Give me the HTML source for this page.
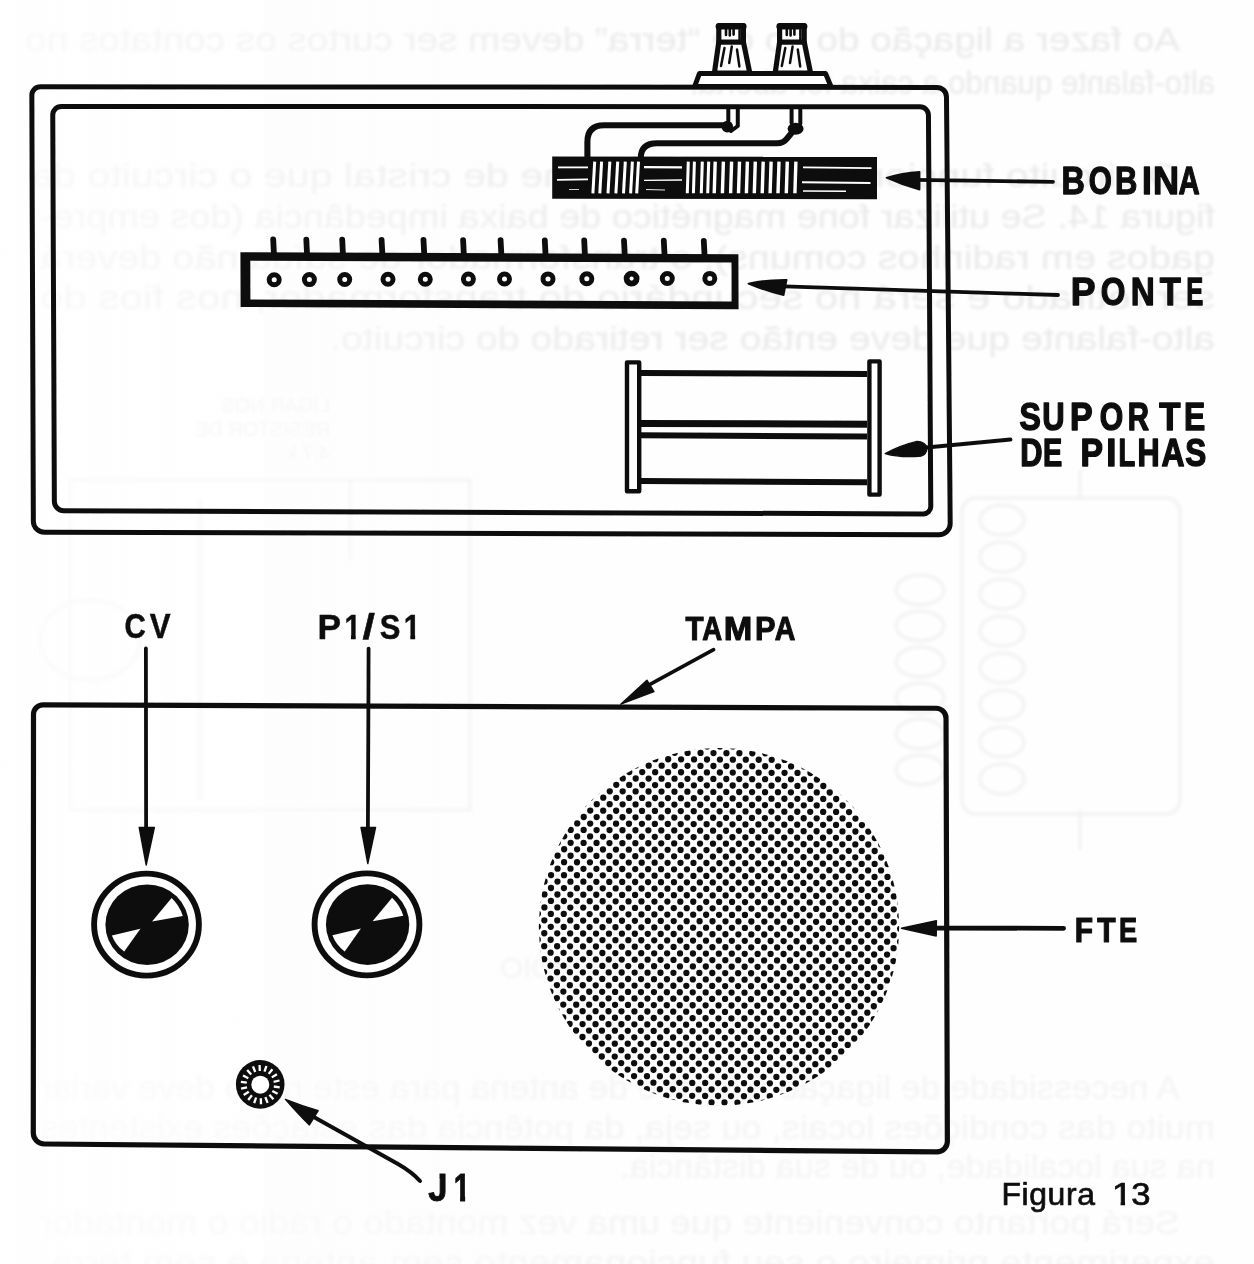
<!DOCTYPE html>
<html lang="pt-BR">
<head>
<meta charset="utf-8">
<title>Figura 13</title>
<style>
html,body{margin:0;padding:0;background:#fefefe;}
body{width:1254px;height:1264px;overflow:hidden;position:relative;font-family:"Liberation Sans",sans-serif;}
svg{position:absolute;left:0;top:0;display:block;}
</style>
</head>
<body>
<svg width="1254" height="1264" viewBox="0 0 1254 1264">
<defs><filter id="soft" x="-2%" y="-2%" width="104%" height="104%"><feGaussianBlur stdDeviation="0.38"/></filter><filter id="ghostblur" x="-2%" y="-20%" width="104%" height="140%"><feGaussianBlur stdDeviation="1.5"/></filter></defs>
<g id="ghost" font-family="'Liberation Sans', sans-serif" font-size="34" filter="url(#ghostblur)">
<text transform="matrix(-1 0 0 1 1180 0)" x="0" y="51" fill="#eaeaea" textLength="1155" lengthAdjust="spacingAndGlyphs">Ao fazer a ligação do fio de “terra” devem ser curtos os contatos no</text>
<text transform="matrix(-1 0 0 1 1215 0)" x="0" y="94" fill="#eaeaea" textLength="525" lengthAdjust="spacingAndGlyphs">alto-falante quando a caixa for aberta.</text>
<text transform="matrix(-1 0 0 1 1180 0)" x="0" y="187" fill="#eaeaea" textLength="1150" lengthAdjust="spacingAndGlyphs">O circuito funciona melhor com fone de cristal que o circuito da</text>
<text transform="matrix(-1 0 0 1 1215 0)" x="0" y="228" fill="#eaeaea" textLength="1175" lengthAdjust="spacingAndGlyphs">figura 14. Se utilizar fone magnético de baixa impedância (dos empre-</text>
<text transform="matrix(-1 0 0 1 1215 0)" x="0" y="269" fill="#eaeaea" textLength="1175" lengthAdjust="spacingAndGlyphs">gados em radinhos comuns), o transformador de saída não deverá</text>
<text transform="matrix(-1 0 0 1 1215 0)" x="0" y="309" fill="#eaeaea" textLength="1175" lengthAdjust="spacingAndGlyphs">ser retirado e será no secundário do transformador, nos fios do</text>
<text transform="matrix(-1 0 0 1 1215 0)" x="0" y="350" fill="#eaeaea" textLength="885" lengthAdjust="spacingAndGlyphs">alto-falante que deve então ser retirado do circuito.</text>
<text transform="matrix(-1 0 0 1 1180 0)" x="0" y="1099" fill="#f4f4f4" textLength="1140" lengthAdjust="spacingAndGlyphs">A necessidade de ligação à terra e de antena para este rádio deve variar</text>
<text transform="matrix(-1 0 0 1 1215 0)" x="0" y="1139" fill="#f4f4f4" textLength="1175" lengthAdjust="spacingAndGlyphs">muito das condições locais, ou seja, da potência das estações existentes</text>
<text transform="matrix(-1 0 0 1 1215 0)" x="0" y="1178" fill="#f4f4f4" textLength="595" lengthAdjust="spacingAndGlyphs">na sua localidade, ou de sua distância.</text>
<text transform="matrix(-1 0 0 1 1180 0)" x="0" y="1234" fill="#f4f4f4" textLength="1140" lengthAdjust="spacingAndGlyphs">Será portanto conveniente que uma vez montado o rádio o montador</text>
<text transform="matrix(-1 0 0 1 1215 0)" x="0" y="1274" fill="#f4f4f4" textLength="1175" lengthAdjust="spacingAndGlyphs">experimente primeiro o seu funcionamento sem antena e sem terra.</text>
<text transform="matrix(-1 0 0 1 760 0)" x="0" y="978" font-size="30" fill="#f3f3f3" textLength="260" lengthAdjust="spacingAndGlyphs">USANDO O RÁDIO</text>
<text transform="matrix(-1 0 0 1 330 0)" x="0" y="412" font-size="20" fill="#f0f0f0">LIGAR NOS</text>
<text transform="matrix(-1 0 0 1 330 0)" x="0" y="436" font-size="20" fill="#f0f0f0">RESISTOR DE</text>
<text transform="matrix(-1 0 0 1 330 0)" x="0" y="460" font-size="20" fill="#f0f0f0">4,7 k</text>
<g fill="none" stroke="#f3f3f3" stroke-width="3.5">
<rect x="962" y="498" width="218" height="316" rx="14"/>
<ellipse cx="1002" cy="520" rx="22" ry="15"/>
<ellipse cx="1002" cy="557" rx="22" ry="15"/>
<ellipse cx="1002" cy="594" rx="22" ry="15"/>
<ellipse cx="1002" cy="631" rx="22" ry="15"/>
<ellipse cx="1002" cy="668" rx="22" ry="15"/>
<ellipse cx="1002" cy="705" rx="22" ry="15"/>
<ellipse cx="1002" cy="742" rx="22" ry="15"/>
<ellipse cx="1002" cy="779" rx="22" ry="15"/>
<ellipse cx="920" cy="590" rx="24" ry="15"/>
<ellipse cx="920" cy="626" rx="24" ry="15"/>
<ellipse cx="920" cy="662" rx="24" ry="15"/>
<ellipse cx="920" cy="698" rx="24" ry="15"/>
<ellipse cx="920" cy="734" rx="24" ry="15"/>
<ellipse cx="920" cy="770" rx="24" ry="15"/>
<path d="M1080,470 V498 M1080,810 V850 M70,480 H470 V810 H70 Z M200,500 V800 M350,480 V560"/>
<ellipse cx="90" cy="640" rx="50" ry="40"/>
</g>
</g>
<defs><linearGradient id="fade" gradientUnits="userSpaceOnUse" x1="0" y1="0" x2="700" y2="0"><stop offset="0" stop-color="#fefefe" stop-opacity="0.75"/><stop offset="0.45" stop-color="#fefefe" stop-opacity="0.45"/><stop offset="1" stop-color="#fefefe" stop-opacity="0"/></linearGradient></defs>
<rect x="0" y="0" width="700" height="1264" fill="url(#fade)"/>
<g id="drawing" filter="url(#soft)">
<g id="top-box" fill="none" stroke="#111" stroke-linejoin="round" stroke-linecap="round">
<path d="M31.83,95.30 A8.5,8.5 0 0 1 40.30,86.81 L936.90,87.39 A9.5,9.5 0 0 1 946.48,96.90 L950.20,523.40 A11.5,11.5 0 0 1 938.80,534.87 L44.40,532.23 A11.0,11.0 0 0 1 33.36,521.20 Z" stroke-width="5.0"/>
<path d="M52.74,115.00 A8.5,8.5 0 0 1 61.20,106.50 L919.90,106.70 A8.5,8.5 0 0 1 928.45,115.20 L930.76,506.50 A7.5,7.5 0 0 1 923.30,513.97 L63.90,510.83 A9.5,9.5 0 0 1 54.36,501.30 Z" stroke-width="5.0"/>
</g>
<g id="terminals" stroke="#111" stroke-linejoin="round" stroke-linecap="round">
<path d="M694.6,86.5 L699.4,73.6 L825.6,73.6 L831,86.5 Z" fill="#fff" stroke-width="5.0"/>
<path d="M718.8,42 L714.4,73 L749.8,73 L743.4,42 Z" fill="#fff" stroke-width="5.2"/>
<path d="M718.8,25.6 L743.4,25.6 L743.4,42 L718.8,42 Z" fill="#fff" stroke-width="5.2"/>
<path d="M718.8,26.4 L743.4,26.4" fill="none" stroke-width="6.4"/>
<path d="M726.0,29 L726.0,35 M729.8,29 L729.8,35.4 M733.6,29 L733.6,34.6 M739.6,30 L739.6,40" fill="none" stroke-width="2.6"/>
<path d="M724.5,48 L721.0,66 M731.8,46.5 L729.2,63 M737.0,49.5 L739.4,66.5" fill="none" stroke-width="2.5"/>
<path d="M779.6,42 L775.2,73 L810.6,73 L804.2,42 Z" fill="#fff" stroke-width="5.2"/>
<path d="M779.6,25.6 L804.2,25.6 L804.2,42 L779.6,42 Z" fill="#fff" stroke-width="5.2"/>
<path d="M779.6,26.4 L804.2,26.4" fill="none" stroke-width="6.4"/>
<path d="M786.8,29 L786.8,35 M790.6,29 L790.6,35.4 M794.4,29 L794.4,34.6 M800.4,30 L800.4,40" fill="none" stroke-width="2.6"/>
<path d="M785.3,48 L781.8,66 M792.6,46.5 L790.0,63 M797.8,49.5 L800.2,66.5" fill="none" stroke-width="2.5"/>
</g>
<g id="wires" fill="none" stroke="#111" stroke-linejoin="round" stroke-linecap="round">
<path d="M728.3,108 L728.3,121 M737.8,108 L737.8,126 L731,131" stroke-width="4.0"/>
<path d="M791.6,108 L791.6,123 M800.3,108 L800.3,124" stroke-width="4.0"/>
<circle cx="727.3" cy="126.6" r="5.8" fill="#111" stroke="none"/>
<ellipse cx="795.6" cy="128.8" rx="8" ry="6" fill="#111" stroke="none"/>
<path d="M727,125.3 L604,125.3 Q587.4,125.3 587.4,142 L587.4,158" stroke-width="6.1"/>
<path d="M794,130 L787,138.5 Q783.5,143.3 777,143.3 L657,143.3 Q640.8,143.3 640.8,158" stroke-width="6.0"/>
</g>
<g id="coil">
<path d="M552.2,156.6 L877,156.8 L877,199.2 L552.2,198.8 Z" fill="#111"/>
<g stroke="#fff" stroke-linecap="butt" fill="none">
<path d="M594.7,161.6 L592.9,193.4" stroke-width="3"/>
<path d="M601.6,161.6 L599.8,193.4" stroke-width="3"/>
<path d="M609.8,161.6 L608.0,193.4" stroke-width="3"/>
<path d="M617.7,161.6 L615.9,193.4" stroke-width="3"/>
<path d="M625.3,161.6 L623.5,193.4" stroke-width="3"/>
<path d="M632.4,161.6 L630.6,193.4" stroke-width="3"/>
<path d="M638.5,161.6 L636.7,193.4" stroke-width="3"/>
<path d="M688.3,161.6 L687.3,193.2" stroke-width="3.0"/>
<path d="M694.4,161.6 L693.4,193.2" stroke-width="3.0"/>
<path d="M702.3,161.6 L701.3,193.2" stroke-width="3.0"/>
<path d="M708.7,161.6 L707.7,193.2" stroke-width="3.0"/>
<path d="M715.2,161.6 L714.2,193.2" stroke-width="3.4"/>
<path d="M723.4,161.6 L722.4,193.2" stroke-width="3.4"/>
<path d="M731.6,161.6 L730.6,193.2" stroke-width="3.4"/>
<path d="M739.5,161.6 L738.5,193.2" stroke-width="3.4"/>
<path d="M747.4,161.6 L746.4,193.2" stroke-width="3.4"/>
<path d="M755.3,161.6 L754.3,193.2" stroke-width="3.4"/>
<path d="M763.2,161.6 L762.2,193.2" stroke-width="3.4"/>
<path d="M771.1,161.6 L770.1,193.2" stroke-width="3.4"/>
<path d="M779.0,161.6 L778.0,193.2" stroke-width="3.4"/>
<path d="M787.3,161.6 L786.3,193.2" stroke-width="3.4"/>
<path d="M795.9,161.6 L794.9,193.2" stroke-width="3.4"/>
<path d="M558,167.4 L588,167.4" stroke-width="1.8"/>
<path d="M557,179.8 L588,179.4" stroke-width="1.8"/>
<path d="M569,189.5 L579,189.5" stroke-width="0.8"/>
<path d="M644,167.2 L682,167.4" stroke-width="2.2"/>
<path d="M644,180.3 L682,180" stroke-width="1.3"/>
<path d="M646,189.5 L665,190" stroke-width="0.9"/>
<path d="M803,167.3 L871.5,168.2" stroke-width="1.8"/>
<path d="M802,182.3 L870.5,183" stroke-width="2.0"/>
<path d="M803,191 L846,191.3" stroke-width="1.4"/>
</g></g>
<g id="ponte" stroke="#111" fill="none" stroke-linecap="round" stroke-linejoin="miter">
<path d="M240.4,252.2 L738.4,254.2 L738.6,309.2 L240.6,307 Z M250.3,260.8 L731.5,262.6 L731.6,301.4 L250.4,299.4 Z" fill="#111" fill-rule="evenodd" stroke="none"/>
<path d="M273.2,239.5 L274.0,255.0" stroke-width="5.8"/>
<path d="M306.3,239.6 L307.1,255.2" stroke-width="5.8"/>
<path d="M342.2,239.7 L343.0,255.3" stroke-width="5.8"/>
<path d="M381.6,239.9 L382.4,255.4" stroke-width="5.8"/>
<path d="M423.5,240.0 L424.3,255.6" stroke-width="5.8"/>
<path d="M463.1,240.1 L463.9,255.8" stroke-width="5.8"/>
<path d="M500.6,240.2 L501.4,255.9" stroke-width="5.8"/>
<path d="M544.8,240.3 L545.6,256.1" stroke-width="5.8"/>
<path d="M584.2,240.5 L585.0,256.2" stroke-width="5.8"/>
<path d="M624.0,240.6 L624.8,256.4" stroke-width="5.8"/>
<path d="M663.8,240.7 L664.6,256.5" stroke-width="5.8"/>
<path d="M703.8,240.8 L704.6,256.6" stroke-width="5.8"/>
<circle cx="274.2" cy="279.7" r="5" stroke-width="5.0"/>
<circle cx="309.4" cy="279.6" r="5" stroke-width="5.0"/>
<circle cx="344.7" cy="279.5" r="5" stroke-width="5.0"/>
<circle cx="388.0" cy="279.3" r="5" stroke-width="5.0"/>
<circle cx="425.3" cy="279.2" r="5" stroke-width="5.0"/>
<circle cx="468.4" cy="279.1" r="5" stroke-width="5.0"/>
<circle cx="504.5" cy="279.0" r="5" stroke-width="5.0"/>
<circle cx="548.0" cy="278.9" r="5" stroke-width="5.0"/>
<circle cx="586.8" cy="278.7" r="5" stroke-width="5.0"/>
<circle cx="631.6" cy="278.6" r="5" stroke-width="5.8"/>
<circle cx="667.3" cy="278.5" r="5" stroke-width="5.0"/>
<circle cx="709.8" cy="278.4" r="5" stroke-width="5.0"/>
</g>
<g id="holder" stroke="#111" fill="none" stroke-linecap="butt" stroke-linejoin="round">
<path d="M641,373 L867,374" stroke-width="6"/>
<path d="M641,423.4 L867,424.2" stroke-width="7"/>
<path d="M641,435.3 L867,436.4" stroke-width="6"/>
<path d="M641,481 L867,482.2" stroke-width="6"/>
<path d="M627,362.4 L639.2,362.4 L639.2,491.2 L627,491.2 Z" fill="#fff" stroke-width="4.4"/>
<path d="M869.4,361.4 L879.6,361.4 L879.6,494.6 L869.4,494.6 Z" fill="#fff" stroke-width="4.4"/>
</g>
<g id="arrows-top" stroke="#111" fill="#111" stroke-linecap="round" stroke-linejoin="round">
<path d="M1053,181.8 L915,179.8" fill="none" stroke-width="3.8"/>
<path d="M886.5,177.8 Q902,173 919.5,171.8 L919.5,189.6 Q902,185 886.5,177.8 Z" stroke-width="1.8"/>
<path d="M1058,295 L784,286.4" fill="none" stroke-width="3.8"/>
<path d="M748.5,283.6 Q766,279.6 786.6,279.8 L783.6,295.2 Q766,291 748.5,283.6 Z" stroke-width="1.8"/>
<path d="M1010.4,439.6 L924,447.8" fill="none" stroke-width="4.0"/>
<path d="M885.2,453.6 Q900,445.4 917,441.4 Q925.4,441.8 927,447.8 Q927,454.4 921,456.2 Q900,458 885.2,453.6 Z" stroke-width="1.2"/>
</g>
<g id="bottom-box" fill="none" stroke="#111" stroke-linejoin="round" stroke-linecap="round">
<path d="M33.50,714.30 A9.5,9.5 0 0 1 43.00,704.84 L936.00,708.26 A10.0,10.0 0 0 1 946.03,718.30 L947.37,1141.50 A10.5,10.5 0 0 1 936.90,1151.91 L44.30,1144.00 A11.0,11.0 0 0 1 33.31,1132.90 Z" stroke-width="5.2"/>
</g>
<g id="knobs">
<ellipse cx="146.5" cy="924.6" rx="52.4" ry="51.0" fill="#fff" stroke="#111" stroke-width="5.9"/>
<ellipse cx="147.1" cy="924.8000000000001" rx="41.7" ry="40.3" fill="#111"/>
<path d="M152.1,921.5 L171.6,898.0 Q179.5,905.6 182.8,915.9 Z" fill="#fff"/>
<path d="M140.4,928.7 L111.9,935.4 Q115.5,945.1 124.2,951.6 Z" fill="#fff"/>
<ellipse cx="367" cy="924.4" rx="52.4" ry="51.0" fill="#fff" stroke="#111" stroke-width="5.9"/>
<ellipse cx="367.6" cy="924.6" rx="41.7" ry="40.3" fill="#111"/>
<path d="M372.6,921.3 L392.1,897.8 Q400.0,905.4 403.3,915.7 Z" fill="#fff"/>
<path d="M360.9,928.5 L332.4,935.2 Q336.0,944.9 344.7,951.4 Z" fill="#fff"/>
</g>
<defs><clipPath id="grilleclip"><ellipse cx="719" cy="926.8" rx="180.2" ry="178.8"/></clipPath></defs>
<g id="grille" clip-path="url(#grilleclip)">
<g transform="translate(564.07,862.2) rotate(0.32)" fill="none" stroke="#111" stroke-width="6.3" stroke-linecap="round" stroke-dasharray="0 12.94">
<path d="M-51.76,-129.40H362.82M-45.29,-122.93H369.29M-51.76,-116.46H362.82M-45.29,-109.99H369.29M-51.76,-103.52H362.82M-45.29,-97.05H369.29M-51.76,-90.58H362.82M-45.29,-84.11H369.29M-51.76,-77.64H362.82M-45.29,-71.17H369.29M-51.76,-64.70H362.82M-45.29,-58.23H369.29M-51.76,-51.76H362.82M-45.29,-45.29H369.29M-51.76,-38.82H362.82M-45.29,-32.35H369.29M-51.76,-25.88H362.82M-45.29,-19.41H369.29M-51.76,-12.94H362.82M-45.29,-6.47H369.29M-51.76,0.00H362.82M-45.29,6.47H369.29M-51.76,12.94H362.82M-45.29,19.41H369.29M-51.76,25.88H362.82M-45.29,32.35H369.29M-51.76,38.82H362.82M-45.29,45.29H369.29M-51.76,51.76H362.82M-45.29,58.23H369.29M-51.76,64.70H362.82M-45.29,71.17H369.29M-51.76,77.64H362.82M-45.29,84.11H369.29M-51.76,90.58H362.82M-45.29,97.05H369.29M-51.76,103.52H362.82M-45.29,109.99H369.29M-51.76,116.46H362.82M-45.29,122.93H369.29M-51.76,129.40H362.82M-45.29,135.87H369.29M-51.76,142.34H362.82M-45.29,148.81H369.29M-51.76,155.28H362.82M-45.29,161.75H369.29M-51.76,168.22H362.82M-45.29,174.69H369.29M-51.76,181.16H362.82M-45.29,187.63H369.29M-51.76,194.10H362.82M-45.29,200.57H369.29M-51.76,207.04H362.82M-45.29,213.51H369.29M-51.76,219.98H362.82M-45.29,226.45H369.29M-51.76,232.92H362.82M-45.29,239.39H369.29M-51.76,245.86H362.82M-45.29,252.33H369.29"/>
</g></g>
<g id="jack">
<circle cx="260.2" cy="1084.4" r="24.3" fill="#111"/>
<path d="M273.8,1086.5 L279.7,1087.3" stroke="#fff" stroke-width="2.3" fill="none"/>
<path d="M272.3,1091.0 L277.6,1093.8" stroke="#fff" stroke-width="2.3" fill="none"/>
<path d="M269.4,1094.7 L273.4,1099.2" stroke="#fff" stroke-width="2.3" fill="none"/>
<path d="M265.4,1097.2 L267.6,1102.8" stroke="#fff" stroke-width="2.3" fill="none"/>
<path d="M260.8,1098.2 L261.0,1104.2" stroke="#fff" stroke-width="2.3" fill="none"/>
<path d="M256.1,1097.5 L254.2,1103.2" stroke="#fff" stroke-width="2.3" fill="none"/>
<path d="M251.9,1095.3 L248.2,1100.0" stroke="#fff" stroke-width="2.3" fill="none"/>
<path d="M248.8,1091.8 L243.7,1095.0" stroke="#fff" stroke-width="2.3" fill="none"/>
<path d="M247.0,1087.4 L241.1,1088.7" stroke="#fff" stroke-width="2.3" fill="none"/>
<path d="M246.8,1082.7 L240.9,1081.9" stroke="#fff" stroke-width="2.3" fill="none"/>
<path d="M248.3,1078.2 L243.0,1075.4" stroke="#fff" stroke-width="2.3" fill="none"/>
<path d="M251.2,1074.5 L247.2,1070.0" stroke="#fff" stroke-width="2.3" fill="none"/>
<path d="M255.2,1072.0 L253.0,1066.4" stroke="#fff" stroke-width="2.3" fill="none"/>
<path d="M259.8,1071.0 L259.6,1065.0" stroke="#fff" stroke-width="2.3" fill="none"/>
<path d="M264.5,1071.7 L266.4,1066.0" stroke="#fff" stroke-width="2.3" fill="none"/>
<path d="M268.7,1073.9 L272.4,1069.2" stroke="#fff" stroke-width="2.3" fill="none"/>
<path d="M271.8,1077.4 L276.9,1074.2" stroke="#fff" stroke-width="2.3" fill="none"/>
<path d="M273.6,1081.8 L279.5,1080.5" stroke="#fff" stroke-width="2.3" fill="none"/>
<circle cx="260.3" cy="1084.7" r="9" fill="#fff"/>
</g>
<g id="arrows-bottom" stroke="#111" fill="#111" stroke-linecap="round" stroke-linejoin="round">
<path d="M145.9,648.4 L146.1,830" fill="none" stroke-width="3.8"/>
<path d="M146.2,865 L139.2,827.4 L154.4,827.4 Z" stroke-width="1.4"/>
<path d="M368.6,648.6 L367.9,830" fill="none" stroke-width="3.8"/>
<path d="M367.8,863.6 L361,827.4 L375.6,827.4 Z" stroke-width="1.4"/>
<path d="M713.6,649.6 L650,684.4" fill="none" stroke-width="3.6"/>
<path d="M620.8,704.2 L646.9,680.2 L654.0,691.6 Z" stroke-width="1.4"/>
<path d="M1063.6,928.3 L934,928.1" fill="none" stroke-width="4.8"/>
<path d="M901.4,928.2 L936.4,920.6 L936.2,936 Z" stroke-width="1.4"/>
<path d="M420,1181 Q412,1172 398,1164 L312,1116" fill="none" stroke-width="4"/>
<path d="M285.4,1099.4 Q302,1106 318.2,1110.6 L309.4,1125 Q299,1115 285.4,1099.4 Z" stroke-width="1.4"/>
</g>
<g id="labels" font-family="'Liberation Sans', sans-serif" fill="#111">
<text y="194.2" font-size="38.81" font-weight="bold" stroke="#111" stroke-width="1.3" stroke-linejoin="round" aria-label="BOBINA"><tspan x="1061.48" textLength="23.35" lengthAdjust="spacingAndGlyphs">B</tspan><tspan x="1088.68" textLength="23.07" lengthAdjust="spacingAndGlyphs">O</tspan><tspan x="1115.05" textLength="22.34" lengthAdjust="spacingAndGlyphs">B</tspan><tspan x="1141.92" textLength="9.86" lengthAdjust="spacingAndGlyphs">I</tspan><tspan x="1152.99" textLength="26.03" lengthAdjust="spacingAndGlyphs">N</tspan><tspan x="1178.56" textLength="21.22" lengthAdjust="spacingAndGlyphs">A</tspan></text>
<text y="304.8" font-size="38.52" font-weight="bold" stroke="#111" stroke-width="1.3" stroke-linejoin="round" aria-label="PONTE"><tspan x="1070.84" textLength="24.80" lengthAdjust="spacingAndGlyphs">P</tspan><tspan x="1100.63" textLength="24.66" lengthAdjust="spacingAndGlyphs">O</tspan><tspan x="1130.83" textLength="24.05" lengthAdjust="spacingAndGlyphs">N</tspan><tspan x="1159.79" textLength="21.09" lengthAdjust="spacingAndGlyphs">T</tspan><tspan x="1186.22" textLength="17.05" lengthAdjust="spacingAndGlyphs">E</tspan></text>
<text y="429.6" font-size="38.81" font-weight="bold" stroke="#111" stroke-width="1.5" stroke-linejoin="round" aria-label="SUPORTE"><tspan x="1019.40" textLength="21.33" lengthAdjust="spacingAndGlyphs">S</tspan><tspan x="1042.24" textLength="22.35" lengthAdjust="spacingAndGlyphs">U</tspan><tspan x="1069.99" textLength="22.62" lengthAdjust="spacingAndGlyphs">P</tspan><tspan x="1099.75" textLength="23.44" lengthAdjust="spacingAndGlyphs">O</tspan><tspan x="1127.80" textLength="21.23" lengthAdjust="spacingAndGlyphs">R</tspan><tspan x="1159.28" textLength="21.22" lengthAdjust="spacingAndGlyphs">T</tspan><tspan x="1183.98" textLength="21.24" lengthAdjust="spacingAndGlyphs">E</tspan></text>
<text y="466.2" font-size="38.81" font-weight="bold" stroke="#111" stroke-width="1.5" stroke-linejoin="round" aria-label="DE PILHAS"><tspan x="1020.23" textLength="22.27" lengthAdjust="spacingAndGlyphs">D</tspan><tspan x="1042.93" textLength="19.24" lengthAdjust="spacingAndGlyphs">E</tspan><tspan x="1070.0"> </tspan><tspan x="1080.39" textLength="22.51" lengthAdjust="spacingAndGlyphs">P</tspan><tspan x="1106.26" textLength="10.19" lengthAdjust="spacingAndGlyphs">I</tspan><tspan x="1118.40" textLength="16.71" lengthAdjust="spacingAndGlyphs">L</tspan><tspan x="1137.54" textLength="22.13" lengthAdjust="spacingAndGlyphs">H</tspan><tspan x="1161.42" textLength="23.00" lengthAdjust="spacingAndGlyphs">A</tspan><tspan x="1185.20" textLength="21.02" lengthAdjust="spacingAndGlyphs">S</tspan></text>
<text y="638.4" font-size="35.03" font-weight="bold" stroke="#111" stroke-width="0.5" stroke-linejoin="round" aria-label="CV"><tspan x="124.60" textLength="21.29" lengthAdjust="spacingAndGlyphs">C</tspan><tspan x="149.81" textLength="20.88" lengthAdjust="spacingAndGlyphs">V</tspan></text>
<text y="639.1" font-size="35.90" font-weight="bold" stroke="#111" stroke-width="0.5" stroke-linejoin="round" aria-label="P1/S1"><tspan x="317.38" textLength="23.58" lengthAdjust="spacingAndGlyphs">P</tspan><tspan x="344.51" textLength="16.32" lengthAdjust="spacingAndGlyphs">1</tspan><tspan x="362.42" textLength="12.47" lengthAdjust="spacingAndGlyphs">/</tspan><tspan x="379.72" textLength="20.67" lengthAdjust="spacingAndGlyphs">S</tspan><tspan x="403.67" textLength="16.67" lengthAdjust="spacingAndGlyphs">1</tspan></text>
<rect x="344.95" y="634.54" width="6.04" height="5.76" fill="#fefefe" stroke="none"/>
<rect x="355.75" y="634.54" width="5.66" height="5.76" fill="#fefefe" stroke="none"/>
<rect x="404.14" y="634.54" width="6.15" height="5.76" fill="#fefefe" stroke="none"/>
<rect x="415.15" y="634.54" width="5.76" height="5.76" fill="#fefefe" stroke="none"/>
<text y="639.7" font-size="33.58" font-weight="bold" stroke="#111" stroke-width="1.1" stroke-linejoin="round" aria-label="TAMPA"><tspan x="685.55" textLength="18.08" lengthAdjust="spacingAndGlyphs">T</tspan><tspan x="702.27" textLength="19.91" lengthAdjust="spacingAndGlyphs">A</tspan><tspan x="723.87" textLength="28.56" lengthAdjust="spacingAndGlyphs">M</tspan><tspan x="755.05" textLength="20.50" lengthAdjust="spacingAndGlyphs">P</tspan><tspan x="774.76" textLength="20.63" lengthAdjust="spacingAndGlyphs">A</tspan></text>
<text y="941.6" font-size="35.76" font-weight="bold" stroke="#111" stroke-width="1.2" stroke-linejoin="round" aria-label="FTE"><tspan x="1074.80" textLength="18.30" lengthAdjust="spacingAndGlyphs">F</tspan><tspan x="1097.37" textLength="18.35" lengthAdjust="spacingAndGlyphs">T</tspan><tspan x="1119.03" textLength="18.17" lengthAdjust="spacingAndGlyphs">E</tspan></text>
<text y="1201.1" font-size="39.24" font-weight="bold" stroke="#111" stroke-width="1.0" stroke-linejoin="round" aria-label="J1"><tspan x="428.22" textLength="19.20" lengthAdjust="spacingAndGlyphs">J</tspan><tspan x="453.79" textLength="16.25" lengthAdjust="spacingAndGlyphs">1</tspan></text>
<rect x="433.48" y="1172.70" width="6.02" height="7.03" fill="#fefefe" stroke="none"/>
<rect x="453.88" y="1195.90" width="6.19" height="6.60" fill="#fefefe" stroke="none"/>
<rect x="465.15" y="1195.90" width="5.81" height="6.60" fill="#fefefe" stroke="none"/>
<text y="1205.2" font-size="31.90" font-weight="normal" stroke="#111" stroke-width="0.7" stroke-linejoin="round" aria-label="Figura 13"><tspan x="1001.4" textLength="93.5" lengthAdjust="spacing">Figura</tspan><tspan x="1100"> </tspan><tspan x="1111.70" textLength="20.91" lengthAdjust="spacingAndGlyphs">1</tspan><tspan x="1131.16" textLength="19.28" lengthAdjust="spacingAndGlyphs">3</tspan></text>
<rect x="1112.74" y="1201.76" width="7.84" height="4.69" fill="#fefefe" stroke="none"/>
<rect x="1125.05" y="1201.76" width="7.54" height="4.69" fill="#fefefe" stroke="none"/>
</g>
</g>
</svg>
</body>
</html>
